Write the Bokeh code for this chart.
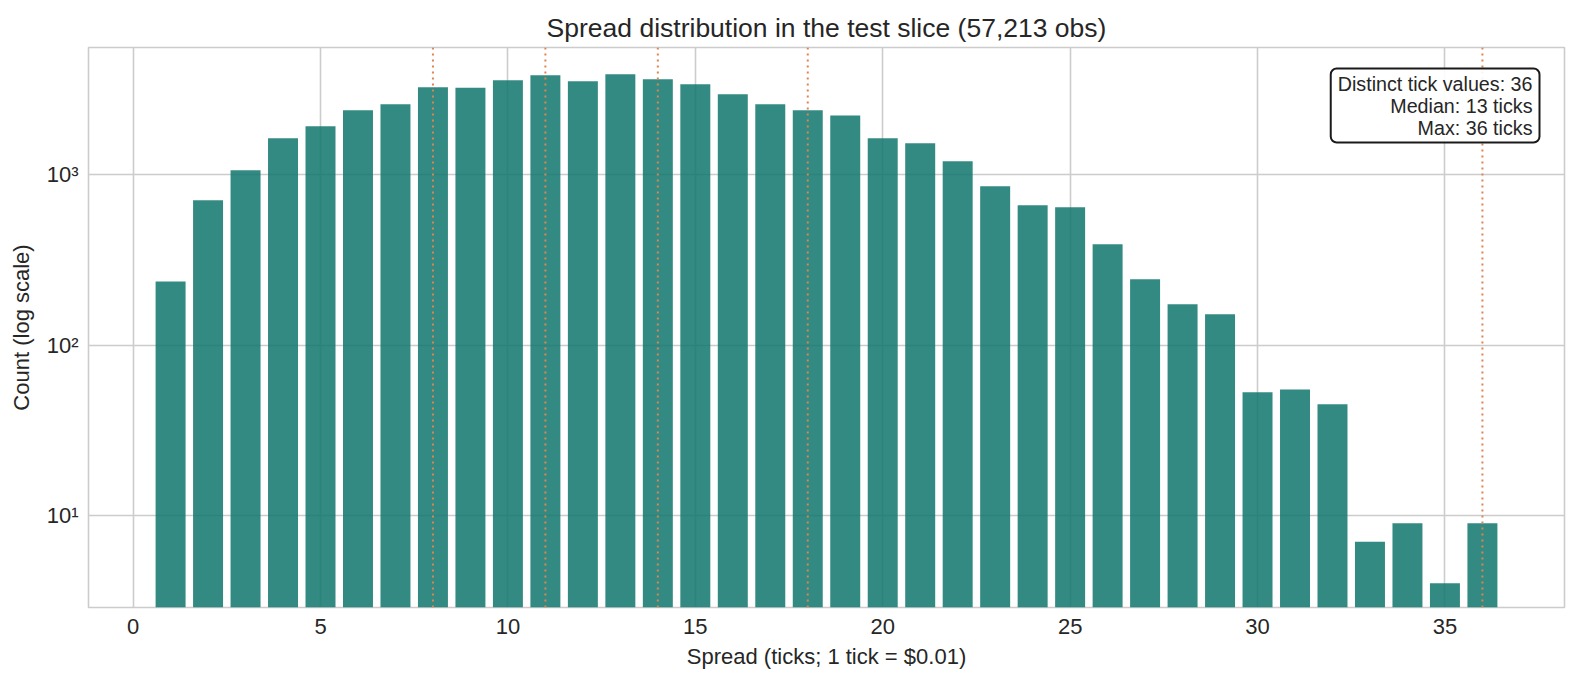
from bokeh.plotting import figure
from bokeh.models import Range1d, FixedTicker, Span, Label
from bokeh.embed import file_html
from bokeh.resources import INLINE

# ---- data ----
spreads = list(range(1, 37))
counts = [237, 710, 1066, 1643, 1932, 2399, 2601, 3273, 3260, 3600,
          3852, 3552, 3905, 3648, 3412, 2980, 2601, 2399, 2240, 1643,
          1535, 1204, 858, 664, 646, 392, 244, 174, 152, 53,
          55, 45, 7, 9, 4, 9]
marker_ticks = [8, 11, 14, 18, 36]
x_ticks = [0, 5, 10, 15, 20, 25, 30, 35]
y_ticks = [10, 100, 1000]
y_tick_labels = {10: "10¹", 100: "10²", 1000: "10³"}
title_text = "Spread distribution in the test slice (57,213 obs)"
x_label = "Spread (ticks; 1 tick = $0.01)"
y_label = "Count (log scale)"
info_lines = ["Distinct tick values: 36", "Median: 13 ticks", "Max: 36 ticks"]

FONT = "Liberation Sans"
TXT = "#262626"
GRID = "#cccccc"

p = figure(frame_width=1476, frame_height=560, output_backend="svg",
           toolbar_location=None, y_axis_type="log",
           x_range=Range1d(-1.19, 38.19), y_range=Range1d(2.88, 5610),
           min_border_left=88, min_border_right=16, min_border_top=47,
           min_border_bottom=76, background_fill_color="white",
           border_fill_color="white")

p.title.text = title_text
p.title.text_font = FONT
p.title.text_font_size = "26.5px"
p.title.text_font_style = "normal"
p.title.text_color = TXT
p.title.align = "center"
p.title.standoff = 9
p.title.offset = 0

p.outline_line_color = GRID
p.outline_line_width = 1.6

for ax in (p.xaxis[0], p.yaxis[0]):
    ax.axis_line_color = None
    ax.major_tick_line_color = None
    ax.minor_tick_line_color = None
    ax.major_tick_out = 0
    ax.major_tick_in = 0
    ax.minor_tick_out = 0
    ax.minor_tick_in = 0
    ax.major_label_text_font = FONT
    ax.major_label_text_font_size = "22px"
    ax.major_label_text_color = TXT
    ax.axis_label_text_font = FONT
    ax.axis_label_text_font_size = "22px"
    ax.axis_label_text_font_style = "normal"
    ax.axis_label_text_color = TXT

p.xaxis.ticker = FixedTicker(ticks=x_ticks)
p.yaxis.ticker = FixedTicker(ticks=y_ticks)
p.yaxis.major_label_overrides = y_tick_labels
p.xaxis.axis_label = x_label
p.yaxis.axis_label = y_label
p.xaxis.major_label_standoff = 11
p.xaxis.axis_label_standoff = 7
p.yaxis.major_label_standoff = 10
p.yaxis.axis_label_standoff = 10

p.xgrid.grid_line_color = GRID
p.ygrid.grid_line_color = GRID
p.xgrid.grid_line_width = 1.6
p.ygrid.grid_line_width = 1.6
p.ygrid.minor_grid_line_color = None

p.vbar(x=spreads, top=counts, bottom=1, width=0.8,
       fill_color="#0f756c", fill_alpha=0.85, line_color=None)

for t in marker_ticks:
    p.add_layout(Span(location=t, dimension="height", line_color="#dd8452",
                      line_alpha=1.0, line_width=2, line_dash="2 4"))

p.add_layout(Label(x=1451, y=539, x_units="screen", y_units="screen",
                   text="\n".join(info_lines), text_align="right",
                   text_baseline="top", text_font=FONT, text_font_size="19.7px",
                   text_color=TXT, text_line_height=1.0,
                   background_fill_color="white", background_fill_alpha=0.9,
                   border_line_color="#1a1a1a", border_line_width=2,
                   border_radius=6, padding=(7, 4)))

open("out.html", "w").write(file_html(p, INLINE))
